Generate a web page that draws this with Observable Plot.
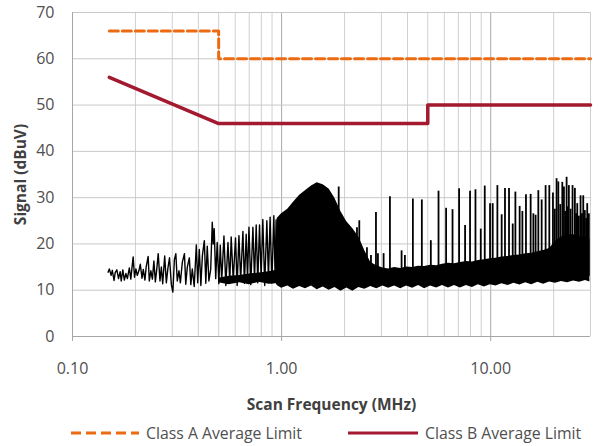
<!DOCTYPE html>
<html>
<head>
<meta charset="utf-8">
<script src="https://cdn.jsdelivr.net/npm/d3@7"></script>
<script src="https://cdn.jsdelivr.net/npm/@observablehq/plot@0.6"></script>
<style>
  html, body { margin: 0; padding: 0; background: #fff; }
  #wrap { position: relative; width: 615px; height: 446px; font-family: "Open Sans", sans-serif; }
  #legend { position: absolute; left: 0; top: 422px; width: 615px; height: 22px; font-size: 15.8px; color: #505050; }
  .item { position: absolute; top: 0; display: flex; align-items: center; height: 22px; }
  .item svg { margin-right: 7px; }
</style>
</head>
<body>
<div id="wrap">
  <div id="chart"></div>
  <div id="legend"></div>
</div>
<script>
// ---- Limits ----
const classAFreq = [0.15, 0.5, 0.5, 30];
const classAValue = [66, 66, 60, 60];
const classBFreq = [0.15, 0.5, 5, 5, 30];
const classBValue = [56, 46, 46, 50, 50];

// ---- Signal: sparse low-frequency trace (MHz, dBuV) ----
const sparseFreq = [0.148,0.150,0.153,0.155,0.158,0.160,0.163,0.166,0.169,0.171,0.174,0.177,0.180,0.183,0.187,0.190,0.195,0.198,0.201,0.204,0.208,0.211,0.215,0.218,0.222,0.225,0.230,0.233,0.237,0.241,0.245,0.249,0.253,0.257,0.262,0.266,0.270,0.276,0.281,0.286,0.291,0.297,0.302,0.307,0.312,0.317,0.323,0.328,0.335,0.343,0.348,0.354,0.362,0.368,0.374,0.382,0.391,0.397,0.404,0.411,0.418,0.427,0.434,0.441,0.449,0.458,0.466,0.471,0.476,0.484,0.492,0.501,0.509,0.517,0.530,0.541,0.554,0.565,0.574,0.587,0.602,0.613,0.625,0.637,0.653,0.664,0.677,0.687,0.698,0.712,0.729,0.742,0.756,0.769,0.784,0.798,0.813,0.830,0.850,0.865,0.881,0.898,0.918,0.931,0.941,0.952];
const sparseSignal = [13.9,14.6,13.2,14.3,12.1,13.8,14.4,12.5,14.0,12.0,14.4,12.2,13.6,12.5,14.8,12.4,17.2,12.8,14.6,13.2,14.3,15.6,12.6,14.5,12.2,15.0,17.3,12.0,14.2,12.4,16.3,11.8,14.6,17.9,12.0,15.0,11.4,17.4,11.6,14.8,17.0,11.2,9.6,16.6,17.9,12.0,14.2,11.6,16.0,17.9,11.3,15.0,17.0,11.2,14.6,10.8,19.8,11.6,18.8,11.0,17.5,20.7,11.5,19.5,12.0,14.5,24.7,20.0,23.3,12.5,20.3,11.4,19.7,12.0,21.7,11.0,20.3,11.8,21.5,12.2,21.3,11.0,21.8,12.2,22.7,11.5,22.1,12.5,23.6,11.2,23.6,12.4,24.1,11.6,24.1,12.8,25.3,11.0,25.0,12.3,25.8,11.5,26.1,12.8,25.2,11.5];

// ---- Signal: dense band envelope (MHz, low dBuV, high dBuV) ----
const bodyFreq = [0.50,0.56,0.63,0.70,0.78,0.87,0.945,0.952,1.00,1.07,1.14,1.22,1.30,1.39,1.48,1.58,1.69,1.80,1.92,2.05,2.19,2.34,2.50,2.67,2.85,3.05,3.25,3.47,3.71,3.96,4.23,4.52,4.83,5.16,5.51,5.88,6.28,6.71,7.16,7.65,8.17,8.73,9.32,9.95,10.6,11.3,12.1,12.9,13.8,14.7,15.7,16.8,17.9,19.1,20.4,21.8,23.3,24.9,26.6,28.4,29.8];
const bodyLow = [11.6,11.2,11.6,11.2,11.7,11.3,11.4,11.0,10.4,10.9,10.2,10.8,10.3,10.9,10.1,10.7,10.0,10.6,9.8,10.5,9.8,10.6,10.2,10.8,10.3,10.9,10.4,10.9,10.3,10.9,10.4,11.0,10.3,10.9,10.5,11.0,10.5,11.0,10.5,11.0,10.6,11.2,10.7,11.2,10.9,11.4,11.0,11.5,11.1,11.6,11.2,11.7,11.3,11.8,11.5,11.9,11.6,12.0,11.7,12.1,11.8];
const bodyHigh = [12.6,13.0,13.2,13.5,13.7,14.0,14.3,25.5,26.5,27.5,29.0,30.5,31.5,32.5,33.2,32.8,31.8,29.8,27.0,24.8,23.3,21.5,18.5,16.0,15.3,14.8,14.6,14.9,14.7,15.0,14.9,15.2,15.1,15.4,15.3,15.6,15.8,15.7,16.0,16.2,16.1,16.4,16.6,16.8,16.9,17.2,17.3,17.5,17.6,17.9,18.0,18.3,18.6,19.0,20.5,21.5,22.0,22.0,21.5,21.5,21.0];

// ---- Signal: narrow spikes above the band (MHz, peak dBuV) ----
const spikeFreq = [1.875,2.293,2.352,2.559,2.675,2.826,2.888,3.074,3.296,3.747,3.887,4.243,4.684,5.171,5.628,6.119,6.566,7.059,7.540,7.963,8.453,8.960,9.363,9.924,10.22,10.76,11.28,11.70,12.23,12.74,13.12,13.75,14.17,14.74,15.52,15.99,16.39,16.89,17.52,18.30,19.06,19.84,20.25,20.65,21.05,21.5,21.99,22.39,22.7,23.06,23.35,23.64,24.1,24.62,25.26,25.6,25.93,26.4,26.89,27.3,27.70,28.19,28.6,28.94,29.46];
const spikePeak = [32.3,23.5,25.0,19.2,17.5,26.8,17.9,17.9,30.2,18.5,17.5,29.7,29.5,20.7,31.4,27.7,27.4,31.9,24.0,31.4,31.7,23.2,32.5,28.7,28.7,32.6,26.3,32.0,32.0,24.3,31.2,28.1,27.0,30.6,30.7,26.5,26.2,31.5,29.5,32.6,32.6,31.0,27.5,34.1,33.4,28.5,33.3,32.3,27.0,34.4,28.0,32.6,27.5,32.6,32.0,26.5,28.7,26.0,30.4,26.5,30.4,27.2,25.5,28.7,26.5];

// ---- Axes ----
const xLabelTicks = [0.1, 1, 10];
const xMinorGrid = [0.2,0.3,0.4,0.5,0.6,0.7,0.8,0.9,2,3,4,5,6,7,8,9,20,30];
const xMajorGrid = [1, 10];
const yTicks = [0,10,20,30,40,50,60,70];

const colorA = "#ec6a12";
const colorB = "#a3192f";

const classA = classAFreq.map((f, i) => ({f, v: classAValue[i]}));
const classB = classBFreq.map((f, i) => ({f, v: classBValue[i]}));
const sparse = sparseFreq.map((f, i) => ({f, v: sparseSignal[i]}));
const body = bodyFreq.map((f, i) => ({f, lo: bodyLow[i], hi: bodyHigh[i]}));
const spikes = spikeFreq.map((f, i) => ({f, v: spikePeak[i]}));

const chart = Plot.plot({
  width: 615,
  height: 418,
  marginTop: 12,
  marginLeft: 72,
  marginRight: 25,
  marginBottom: 82,
  style: {fontFamily: "Open Sans", fontSize: "15.5px", color: "#505050", background: "#fff"},
  x: {type: "log", domain: [0.1, 30]},
  y: {domain: [0, 70]},
  marks: [
    Plot.gridX(xMinorGrid, {stroke: "#d0d0d0", strokeOpacity: 1}),
    Plot.gridX(xMajorGrid, {stroke: "#a8a8a8", strokeOpacity: 1}),
    Plot.gridY(yTicks, {stroke: "#c8c8c8", strokeOpacity: 1}),
    Plot.ruleY([yTicks[0]], {stroke: "#a6a6a6"}),
    Plot.ruleX([xLabelTicks[0]], {stroke: "#a6a6a6"}),
    Plot.areaY(body, {x: "f", y1: "lo", y2: "hi", fill: "black", curve: "linear"}),
    Plot.ruleX(spikes, {x: "f", y1: 13, y2: "v", stroke: "black", strokeWidth: 1.8}),
    Plot.line(sparse, {x: "f", y: "v", stroke: "black", strokeWidth: 1.4}),
    Plot.line(classA, {x: "f", y: "v", stroke: colorA, strokeWidth: 3, strokeDasharray: "9,4"}),
    Plot.line(classB, {x: "f", y: "v", stroke: colorB, strokeWidth: 3.5}),
    Plot.axisX({ticks: xLabelTicks, tickFormat: d3.format(".2f"), tickSize: 5, tickPadding: 21, stroke: "#a6a6a6",
      label: "Scan Frequency (MHz)", labelAnchor: "center", labelOffset: 73, labelArrow: "none"}),
    Plot.axisY({ticks: yTicks, tickSize: 0, tickPadding: 18,
      label: "Signal (dBuV)", labelAnchor: "center", labelOffset: 58, labelArrow: "none"})
  ]
});
document.getElementById("chart").appendChild(chart);
d3.select(chart).selectAll('g[aria-label="x-axis label"] text, g[aria-label="y-axis label"] text')
  .style("font-weight", "bold").style("font-size", "15.5px").style("fill", "#404040");
d3.select(chart).selectAll('g[aria-label="x-axis tick label"] text, g[aria-label="y-axis tick label"] text')
  .style("font-size", "16px");

// ---- Legend ----
const legend = d3.select("#legend");
const items = [
  {label: "Class A Average Limit", color: colorA, dash: "10,5", left: 71, w: 68},
  {label: "Class B Average Limit", color: colorB, dash: null, left: 348, w: 70}
];
for (const it of items) {
  const d = legend.append("div").attr("class", "item").style("left", it.left + "px");
  const s = d.append("svg").attr("width", it.w).attr("height", 22);
  s.append("line").attr("x1", 0).attr("x2", it.w).attr("y1", 11).attr("y2", 11)
    .attr("stroke", it.color).attr("stroke-width", 3.2).attr("stroke-dasharray", it.dash);
  d.append("span").text(it.label);
}
</script>
</body>
</html>
